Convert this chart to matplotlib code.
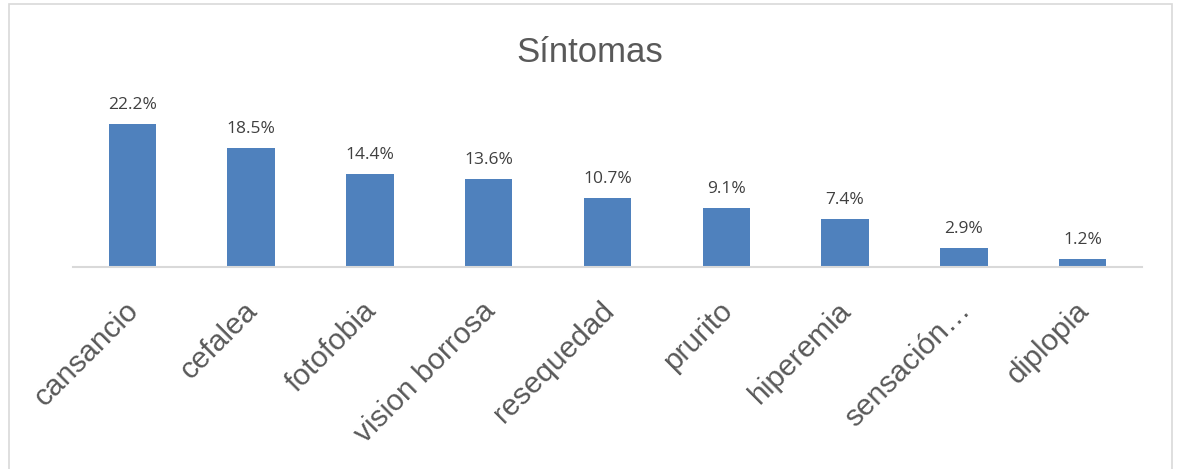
import matplotlib.pyplot as plt
from matplotlib.patches import Rectangle
from matplotlib.transforms import ScaledTranslation

sintomas = ['cansancio', 'cefalea', 'fotofobia', 'vision borrosa', 'resequedad',
            'prurito', 'hiperemia', 'sensación…', 'diplopia']
porcentajes = [22.2, 18.5, 14.4, 13.6, 10.7, 9.1, 7.4, 2.9, 1.2]
etiquetas = ['22.2%', '18.5%', '14.4%', '13.6%', '10.7%', '9.1%', '7.4%', '2.9%', '1.2%']

fig = plt.figure(figsize=(11.78, 4.69), dpi=100)
fig.patches.append(Rectangle((9 / 1178, -0.05), 1163 / 1178, 1 - 4 / 469 + 0.05,
                             transform=fig.transFigure, fill=False,
                             edgecolor='#D9D9D9', linewidth=1.2))

ax = fig.add_axes([73 / 1178, 1 - 267 / 469, 1069 / 1178, 161 / 469])
x = range(len(sintomas))
bars = ax.bar(x, porcentajes, width=0.4, color='#4F81BD')
ax.set_xlim(-0.5, len(sintomas) - 0.5)
ax.set_ylim(0, 25)

for b, t in zip(bars, etiquetas):
    ax.annotate(t, (b.get_x() + b.get_width() / 2, b.get_height()),
                xytext=(0, 8), textcoords='offset points', ha='center', va='bottom',
                fontsize=12.5, color='#404040', family='Open Sans')

for s in ['top', 'right', 'left']:
    ax.spines[s].set_visible(False)
ax.spines['bottom'].set_color('#D9D9D9')
ax.spines['bottom'].set_linewidth(1.5)
ax.set_yticks([])
ax.set_xticks(list(x))
ax.set_xticklabels(sintomas, rotation=45, ha='right', va='top', rotation_mode='anchor',
                   fontsize=21.5, color='#595959', family='Liberation Sans')
ax.tick_params(axis='x', length=0, pad=14)
shift = ScaledTranslation(-8 / 100, -10 / 100, fig.dpi_scale_trans)
for lbl in ax.get_xticklabels():
    lbl.set_transform(lbl.get_transform() + shift)

fig.text(590 / 1178, 1 - 52 / 469, 'Síntomas', ha='center', va='center',
         fontsize=25, color='#595959', family='Liberation Sans')

fig.savefig('out.png', dpi=100)
